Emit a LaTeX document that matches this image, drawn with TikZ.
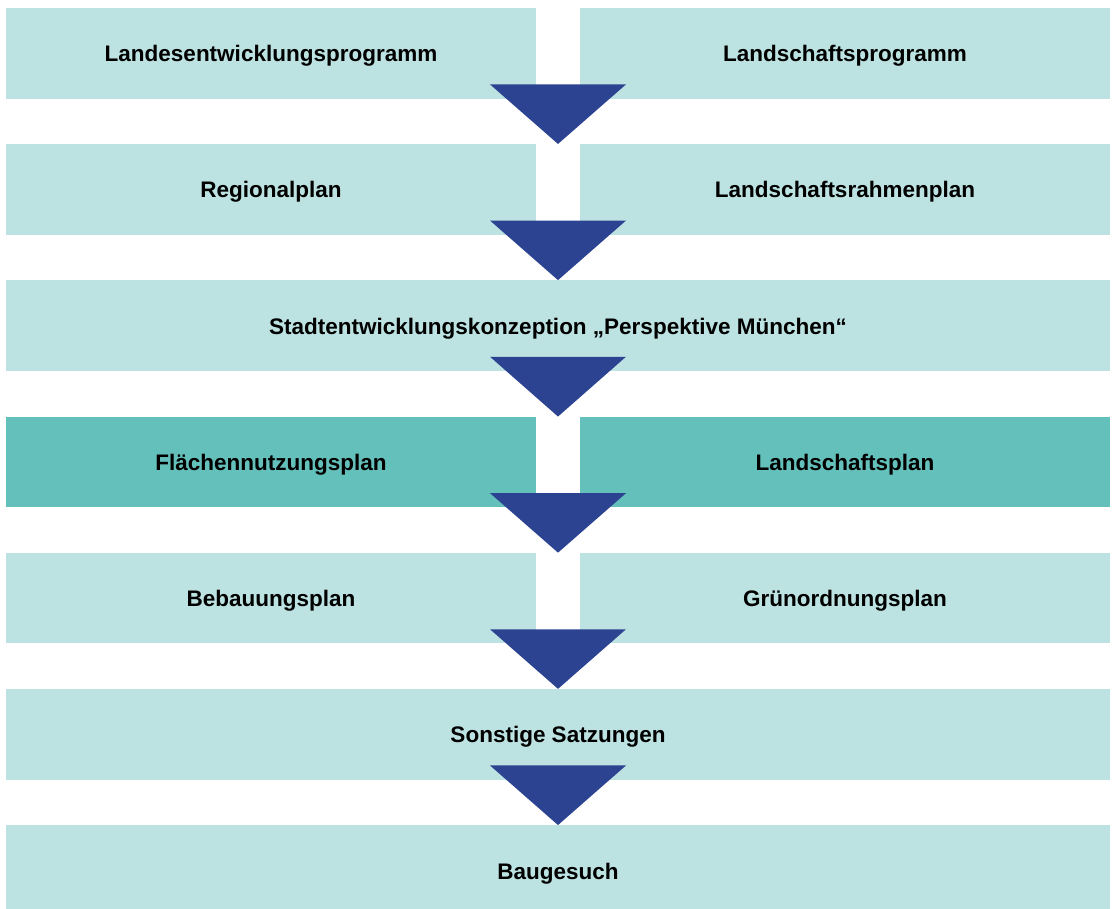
\documentclass[tikz,border=0pt]{standalone}
\usepackage{fontspec}
\setmainfont{Liberation Sans}
\usetikzlibrary{calc}
\definecolor{hellgruen}{HTML}{BCE3E2}
\definecolor{dunkelgruen}{HTML}{64C0BB}
\definecolor{pfeilblau}{HTML}{2C4392}
\begin{document}
\begin{tikzpicture}[
x=1pt, y=-1pt,
plan/.style={rectangle, fill=hellgruen, inner sep=0pt, minimum height=90.5pt, text height=17pt, text depth=0pt, font=\bfseries\fontsize{22.5}{26}\selectfont},
halb/.style={plan, minimum width=530pt},
voll/.style={plan, minimum width=1104pt},
dunkel/.style={fill=dunkelgruen},
pfeil/.style={fill=pfeilblau},
]
\useasboundingbox (0,0) rectangle (1114,908);
\clip (0,0) rectangle (1114,908);
\coordinate (mitte) at (558,0);
% Ebenen
\node[halb] (lep) at (271,53.25) {Landesentwicklungsprogramm};
\node[halb] (lsp) at (845,53.25) {Landschaftsprogramm};
\node[halb] (rp) at (271,189.4) {Regionalplan};
\node[halb] (lrp) at (845,189.4) {Landschaftsrahmenplan};
\node[voll] (sek) at (558,325.6) {Stadtentwicklungskonzeption „Perspektive München“};
\node[halb, dunkel] (fnp) at (271,462) {Flächennutzungsplan};
\node[halb, dunkel] (lp) at (845,462) {Landschaftsplan};
\node[halb] (bp) at (271,598.1) {Bebauungsplan};
\node[halb] (gop) at (845,598.1) {Grünordnungsplan};
\node[voll] (sat) at (558,734.3) {Sonstige Satzungen};
\node[voll] (bg) at (558,870.5) {Baugesuch};
% Pfeile
\foreach \a/\b in {lep/rp, rp/sek, sek/fnp, fnp/bp, bp/sat, sat/bg}
  \fill[pfeil] ($(\a.south -| mitte)+(-68,-14.3)$) -- ($(\a.south -| mitte)+(68,-14.3)$)
    -- (\b.north -| mitte) -- cycle;
\end{tikzpicture}
\end{document}
